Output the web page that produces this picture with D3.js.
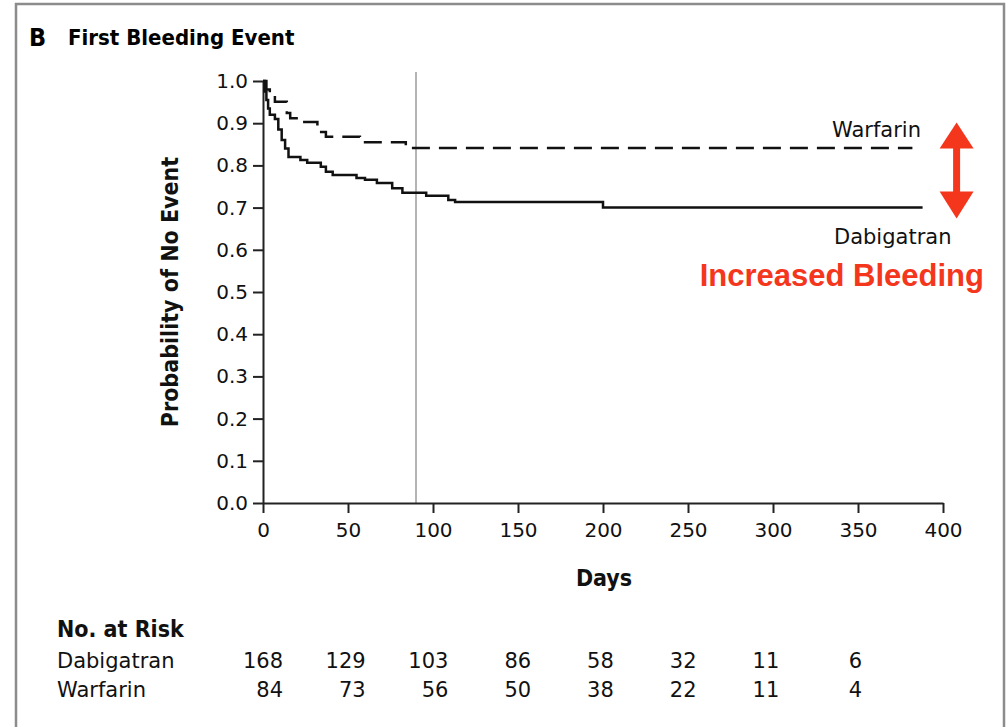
<!DOCTYPE html>
<html>
<head>
<meta charset="utf-8">
<script src="https://cdn.jsdelivr.net/npm/d3@7"></script>
<style>
  body { margin: 0; background: #fff; }
  text { font-family: "DejaVu Sans", sans-serif; }
</style>
</head>
<body>
<div id="chart-area"></div>
<script>
// Kaplan-Meier steps: [day, probability]
var dabigatran = [
  [0, 1.0], [1, 0.975], [2, 0.955], [3, 0.935], [4, 0.92], [7, 0.91],
  [9, 0.885], [11, 0.86], [13, 0.84], [15, 0.82], [22, 0.813], [26, 0.806],
  [34, 0.797], [37, 0.785], [41, 0.777], [55, 0.77], [60, 0.766], [67, 0.758],
  [76, 0.746], [82, 0.735], [96, 0.728], [109, 0.718], [113, 0.713], [200, 0.70],
  [388, 0.70]
];
var warfarin = [
  [0, 1.0], [2, 0.98], [4, 0.965], [7, 0.951], [14, 0.924], [16, 0.912],
  [22, 0.903], [32, 0.879], [37, 0.868], [57, 0.855], [84, 0.841], [382, 0.841]
];
var xTicks = [0, 50, 100, 150, 200, 250, 300, 350, 400];
var yTicks = [0, 0.1, 0.2, 0.3, 0.4, 0.5, 0.6, 0.7, 0.8, 0.9, 1.0];
var riskDays = [0, 50, 100, 150, 200, 250, 300, 350];
var riskDabigatran = [168, 129, 103, 86, 58, 32, 11, 6];
var riskWarfarin = [84, 73, 56, 50, 38, 22, 11, 4];
var landmarkDay = 90;

var W = 1008, H = 727;
var margin = { left: 263, top: 81 };
var width = 680, height = 422;

var svg = d3.select("#chart-area").append("svg")
  .attr("width", W).attr("height", H);

// panel frame (open at the bottom)
svg.append("path")
  .attr("d", "M16," + H + "V4H1004V" + H)
  .attr("fill", "none").attr("stroke", "#8c8c8c").attr("stroke-width", 2.5);

svg.append("text").attr("x", 29).attr("y", 46)
  .style("font-family", "DejaVu Sans Condensed").attr("font-weight", "bold")
  .attr("font-size", "25px").text("B");
svg.append("text").attr("x", 68).attr("y", 45)
  .style("font-family", "DejaVu Sans Condensed").attr("font-weight", "bold")
  .attr("font-size", "22px").text("First Bleeding Event");

var g = svg.append("g")
  .attr("transform", "translate(" + margin.left + "," + margin.top + ")");

var x = d3.scaleLinear().domain([0, 400]).range([0, width]);
var y = d3.scaleLinear().domain([0, 1]).range([height, 0]);

// landmark line at 90 days
g.append("line")
  .attr("x1", x(landmarkDay)).attr("x2", x(landmarkDay))
  .attr("y1", -9).attr("y2", height)
  .attr("stroke", "#b4b4b4").attr("stroke-width", 2);

var xAxis = g.append("g")
  .attr("transform", "translate(0," + height + ")")
  .call(d3.axisBottom(x).tickValues(xTicks).tickSize(10).tickSizeOuter(0).tickPadding(10));
var yAxis = g.append("g")
  .call(d3.axisLeft(y).tickValues(yTicks).tickSize(10).tickSizeOuter(0).tickPadding(5)
    .tickFormat(d3.format(".1f")));

[xAxis, yAxis].forEach(function (a) {
  a.selectAll("path, line").attr("stroke", "#222").attr("stroke-width", 2);
  a.selectAll("text").attr("fill", "#111").attr("font-size", "20px")
    .style("font-family", "DejaVu Sans");
});

var line = d3.line()
  .x(function (d) { return x(d[0]); })
  .y(function (d) { return y(d[1]); })
  .curve(d3.curveStepAfter);

g.append("path").datum(warfarin)
  .attr("d", line).attr("fill", "none")
  .attr("stroke", "#111").attr("stroke-width", 2.5)
  .attr("stroke-dasharray", "18,9");

g.append("path").datum(dabigatran)
  .attr("d", line).attr("fill", "none")
  .attr("stroke", "#111").attr("stroke-width", 2.5);

// curve labels
svg.append("text").attr("x", 832).attr("y", 137)
  .attr("font-size", "21px").attr("fill", "#111").text("Warfarin");
svg.append("text").attr("x", 834).attr("y", 244)
  .attr("font-size", "21px").attr("fill", "#111").text("Dabigatran");

// axis titles
svg.append("text")
  .attr("transform", "translate(178,292) rotate(-90)")
  .attr("text-anchor", "middle")
  .style("font-family", "DejaVu Sans Condensed").attr("font-weight", "bold")
  .attr("font-size", "23px").attr("fill", "#111")
  .text("Probability of No Event");
svg.append("text")
  .attr("x", margin.left + x(200) + 1).attr("y", 586)
  .attr("text-anchor", "middle")
  .style("font-family", "DejaVu Sans Condensed").attr("font-weight", "bold")
  .attr("font-size", "23px").attr("fill", "#111")
  .text("Days");

// annotation
var red = "#f4361d";
svg.append("text").attr("x", 984).attr("y", 286)
  .attr("text-anchor", "end")
  .style("font-family", "Liberation Sans").attr("font-weight", "bold")
  .attr("font-size", "31px").attr("fill", red)
  .text("Increased Bleeding");

var ax = margin.left + x(408);
var arrowTop = margin.top + y(0.84) - 26, arrowBot = margin.top + y(0.70) + 11;
svg.append("line")
  .attr("x1", ax).attr("x2", ax)
  .attr("y1", arrowTop + 20).attr("y2", arrowBot - 20)
  .attr("stroke", red).attr("stroke-width", 7);
svg.append("path")
  .attr("d", "M" + ax + "," + arrowTop + "L" + (ax + 17) + "," + (arrowTop + 26) +
    "L" + (ax - 17) + "," + (arrowTop + 26) + "Z")
  .attr("fill", red);
svg.append("path")
  .attr("d", "M" + ax + "," + arrowBot + "L" + (ax + 17) + "," + (arrowBot - 27) +
    "L" + (ax - 17) + "," + (arrowBot - 27) + "Z")
  .attr("fill", red);

// numbers at risk
var rx = d3.scaleLinear().domain([0, 350]).range([283, 862]);
svg.append("text").attr("x", 57).attr("y", 637)
  .style("font-family", "DejaVu Sans Condensed").attr("font-weight", "bold")
  .attr("font-size", "23px").attr("fill", "#111").text("No. at Risk");

var rows = [
  { name: "Dabigatran", values: riskDabigatran, y: 668 },
  { name: "Warfarin", values: riskWarfarin, y: 697 }
];
rows.forEach(function (r) {
  svg.append("text").attr("x", 57).attr("y", r.y)
    .attr("font-size", "21px").attr("fill", "#111").text(r.name);
  svg.selectAll(null).data(r.values).enter().append("text")
    .attr("x", function (d, i) { return rx(riskDays[i]); })
    .attr("y", r.y)
    .attr("text-anchor", "end")
    .attr("font-size", "21px").attr("fill", "#111")
    .text(function (d) { return d; });
});
</script>
</body>
</html>
